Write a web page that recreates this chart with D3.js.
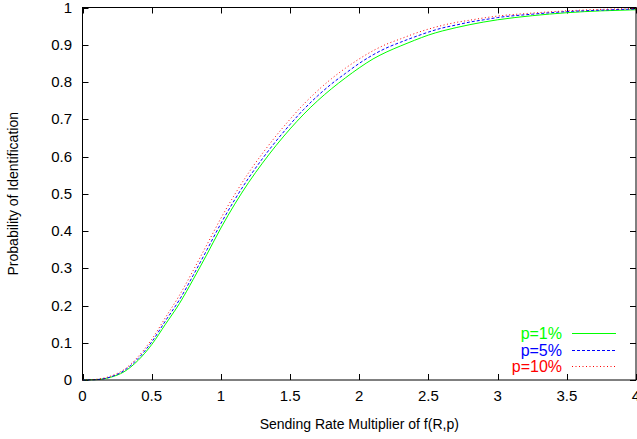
<!DOCTYPE html>
<html><head><meta charset="utf-8">
<script src="https://cdn.jsdelivr.net/npm/d3@7"></script>
<style>body{margin:0;background:#fff}svg{display:block}text{font-family:"Liberation Sans",Arial,sans-serif}</style>
</head><body>
<script>
const xValues = [0,0.1,0.2,0.3,0.4,0.5,0.6,0.7,0.8,0.9,1.0,1.1,1.2,1.3,1.4,1.5,1.6,1.7,1.8,1.9,2.0,2.1,2.2,2.3,2.4,2.5,2.6,2.7,2.8,2.9,3.0,3.25,3.5,3.75,4.0];
const p1 = [0,0.001,0.007,0.022,0.052,0.095,0.150,0.205,0.270,0.338,0.408,0.472,0.530,0.582,0.630,0.674,0.714,0.750,0.782,0.811,0.838,0.862,0.881,0.897,0.912,0.926,0.937,0.946,0.954,0.961,0.967,0.978,0.986,0.991,0.994];
const p5 = [0,0.001,0.008,0.025,0.057,0.102,0.159,0.215,0.281,0.350,0.420,0.484,0.542,0.594,0.642,0.686,0.727,0.763,0.795,0.823,0.850,0.873,0.892,0.907,0.921,0.934,0.945,0.953,0.961,0.967,0.973,0.982,0.989,0.993,0.996];
const p10 = [0,0.002,0.010,0.028,0.062,0.109,0.168,0.227,0.294,0.364,0.434,0.498,0.556,0.608,0.656,0.700,0.741,0.777,0.809,0.837,0.862,0.884,0.902,0.916,0.930,0.942,0.952,0.960,0.966,0.972,0.977,0.985,0.991,0.995,0.997];
const seriesNames = ["p=1%","p=5%","p=10%"];
const seriesColors = ["#00ff00","#0000ff","#ff0000"];
const seriesDash = [null,"3,2","1,2.5"];
const xTicks = [0,0.5,1,1.5,2,2.5,3,3.5,4];
const yTicks = [0,0.1,0.2,0.3,0.4,0.5,0.6,0.7,0.8,0.9,1];
const xLabel = "Sending Rate Multiplier of f(R,p)";
const yLabel = "Probability of Identification";

const W=637,H=439;
const L=82.5,R=636,T=7.5,B=380;
const svg=d3.select("body").append("svg").attr("width",W).attr("height",H);
const x=d3.scaleLinear().domain([0,4]).range([L,R]);
const y=d3.scaleLinear().domain([0,1]).range([B,T]);
const fs=15, tl=6;

// ticks (mirrored, inward)
const g=svg.append("g");
xTicks.forEach(t=>{
  const px=Math.round(x(t))+0.5;
  g.append("line").attr("x1",px).attr("x2",px).attr("y1",B).attr("y2",B-tl).attr("stroke","#000");
  g.append("line").attr("x1",px).attr("x2",px).attr("y1",T).attr("y2",T+tl).attr("stroke","#000");
  g.append("text").attr("x",x(t)).attr("y",401).attr("text-anchor","middle").attr("font-size",fs).text(d3.format("~g")(t));
});
yTicks.forEach(t=>{
  const py=Math.round(y(t))+0.5;
  g.append("line").attr("x1",L).attr("x2",L+tl).attr("y1",py).attr("y2",py).attr("stroke","#000");
  g.append("line").attr("x1",R).attr("x2",R-tl).attr("y1",py).attr("y2",py).attr("stroke","#000");
  g.append("text").attr("x",72).attr("y",y(t)+5).attr("text-anchor","end").attr("font-size",fs).text(d3.format("~g")(t));
});

const line=d3.line().x(d=>x(d[0])).y(d=>y(d[1])).curve(d3.curveMonotoneX);
[p1,p5,p10].forEach((s,i)=>{
  const pts=xValues.map((v,j)=>[v,s[j]]);
  svg.append("path").attr("d",line(pts)).attr("fill","none").attr("stroke",seriesColors[i]).attr("stroke-width",1)
    .attr("stroke-dasharray",seriesDash[i]);
});

// border
svg.append("rect").attr("x",L).attr("y",T).attr("width",R-L).attr("height",B-T).attr("fill","none").attr("stroke","#000");

// legend
const ly=[333.5,350.5,366.5];
seriesNames.forEach((n,i)=>{
  svg.append("text").attr("x",562).attr("y",ly[i]+5).attr("text-anchor","end").attr("font-size",fs+1).attr("fill",seriesColors[i]).text(n);
  svg.append("line").attr("x1",572).attr("x2",616).attr("y1",ly[i]).attr("y2",ly[i]).attr("stroke",seriesColors[i]).attr("stroke-dasharray",seriesDash[i]);
});

svg.append("text").attr("x",(L+R)/2).attr("y",429).attr("text-anchor","middle").attr("font-size",14).text(xLabel);
svg.append("text").attr("transform",`translate(18,${(T+B)/2}) rotate(-90)`).attr("text-anchor","middle").attr("font-size",14).text(yLabel);
</script>
</body></html>
